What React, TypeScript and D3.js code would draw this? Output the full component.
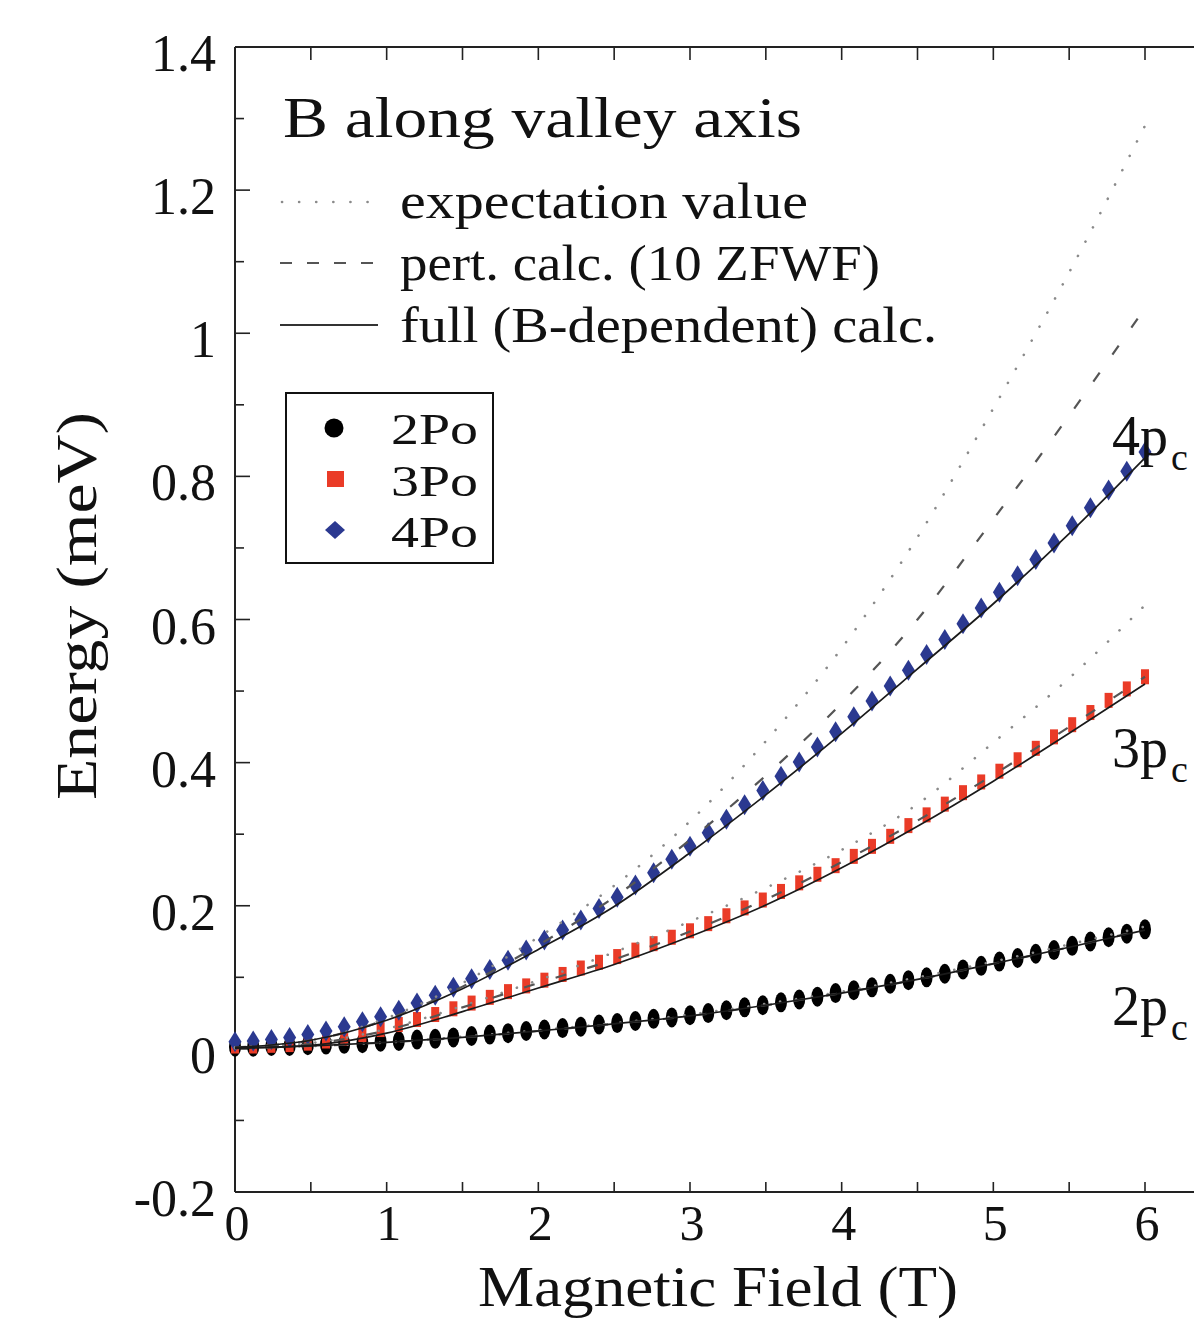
import React from 'react';
import * as d3 from 'd3';

// field values of the marker points (T)
const fieldPts = [
  0, 0.12, 0.24, 0.36, 0.48, 0.6, 0.72, 0.84, 0.96, 1.08,
  1.2, 1.32, 1.44, 1.56, 1.68, 1.8, 1.92, 2.04, 2.16, 2.28,
  2.4, 2.52, 2.64, 2.76, 2.88, 3.0, 3.12, 3.24, 3.36, 3.48,
  3.6, 3.72, 3.84, 3.96, 4.08, 4.2, 4.32, 4.44, 4.56, 4.68,
  4.8, 4.92, 5.04, 5.16, 5.28, 5.4, 5.52, 5.64, 5.76, 5.88, 6.0,
];

const po2 = [
  0.003, 0.003, 0.004, 0.004, 0.005, 0.006, 0.007, 0.008, 0.010, 0.011,
  0.013, 0.014, 0.016, 0.018, 0.020, 0.022, 0.025, 0.027, 0.029, 0.031,
  0.034, 0.036, 0.039, 0.042, 0.044, 0.047, 0.050, 0.054, 0.058, 0.061,
  0.065, 0.069, 0.073, 0.078, 0.082, 0.086, 0.091, 0.096, 0.100, 0.105,
  0.111, 0.116, 0.122, 0.127, 0.133, 0.138, 0.144, 0.150, 0.156, 0.161, 0.167,
];

const po3 = [
  0.004, 0.004, 0.005, 0.006, 0.008, 0.011, 0.015, 0.020, 0.027, 0.034,
  0.041, 0.048, 0.056, 0.064, 0.072, 0.080, 0.088, 0.096, 0.104, 0.113,
  0.121, 0.129, 0.138, 0.147, 0.156, 0.165, 0.175, 0.186, 0.197, 0.208,
  0.220, 0.232, 0.244, 0.256, 0.269, 0.283, 0.297, 0.312, 0.327, 0.342,
  0.358, 0.373, 0.388, 0.404, 0.420, 0.436, 0.453, 0.470, 0.487, 0.503, 0.520,
];

const po4 = [
  0.010, 0.011, 0.013, 0.016, 0.020, 0.025, 0.031, 0.038, 0.045, 0.054,
  0.064, 0.075, 0.086, 0.098, 0.111, 0.124, 0.138, 0.152, 0.166, 0.180,
  0.196, 0.212, 0.229, 0.246, 0.265, 0.283, 0.302, 0.321, 0.341, 0.361,
  0.381, 0.401, 0.422, 0.443, 0.464, 0.486, 0.507, 0.529, 0.551, 0.572,
  0.594, 0.616, 0.638, 0.661, 0.684, 0.707, 0.731, 0.756, 0.781, 0.807, 0.834,
];

// theory curves
const curveB = [0, 0.5, 1, 1.5, 2, 2.5, 3, 3.5, 4, 4.5, 5, 5.5, 6];

const full2p = [0.001, 0.004, 0.009, 0.016, 0.025, 0.035, 0.046, 0.061, 0.078, 0.097, 0.119, 0.142, 0.166];
const full3p = [0.001, 0.005, 0.022, 0.052, 0.085, 0.118, 0.157, 0.201, 0.253, 0.311, 0.374, 0.441, 0.510];
const full4p = [0.002, 0.012, 0.040, 0.084, 0.139, 0.199, 0.274, 0.355, 0.441, 0.531, 0.622, 0.720, 0.826];

const pert2p = [0.001, 0.004, 0.009, 0.016, 0.025, 0.035, 0.046, 0.061, 0.078, 0.097, 0.119, 0.142, 0.167];
const pert3p = [0.001, 0.007, 0.026, 0.058, 0.092, 0.125, 0.164, 0.209, 0.261, 0.319, 0.383, 0.450, 0.520];
const pert4p = [0.002, 0.012, 0.041, 0.087, 0.145, 0.212, 0.292, 0.382, 0.483, 0.600, 0.740, 0.885, 1.035];

const expect2p = [0.001, 0.004, 0.009, 0.017, 0.026, 0.036, 0.048, 0.063, 0.080, 0.100, 0.122, 0.146, 0.171];
const expect3p = [0.002, 0.008, 0.028, 0.060, 0.096, 0.135, 0.178, 0.225, 0.278, 0.342, 0.428, 0.518, 0.620];
const expect4p = [0.002, 0.012, 0.043, 0.092, 0.156, 0.228, 0.318, 0.430, 0.560, 0.715, 0.895, 1.085, 1.290];

const yTicks = [-0.2, 0, 0.2, 0.4, 0.6, 0.8, 1, 1.2, 1.4];
const yTickLabels = ['-0.2', '0', '0.2', '0.4', '0.6', '0.8', '1', '1.2', '1.4'];
const xTicks = [0, 1, 2, 3, 4, 5, 6];

const FONT = '"Liberation Serif", "Times New Roman", serif';
const BLUE = '#2b3990';
const RED = '#ea3b27';

export default function App() {
  const x = d3.scaleLinear().domain([0, 6]).range([235, 1145]);
  const y = d3.scaleLinear().domain([-0.2, 1.4]).range([1192, 47]);
  const left = x(0);
  const top = y(1.4);
  const bottom = y(-0.2);

  const line = d3
    .line<number>()
    .x((d, i) => x(curveB[i]))
    .y((d) => y(d))
    .curve(d3.curveMonotoneX);

  const minorY = d3.range(-0.1, 1.4, 0.2);
  const halfX = d3.range(0.5, 6.6, 0.5);

  const dotStyle = { fill: 'none', stroke: '#8a8a8a', strokeWidth: 2.6, strokeDasharray: '0.1 16', strokeLinecap: 'round' as const };
  const dashStyle = { fill: 'none', stroke: '#555', strokeWidth: 2.2, strokeDasharray: '11 22' };
  const solidStyle = { fill: 'none', stroke: '#1a1a1a', strokeWidth: 1.7 };

  return (
    <div style={{ position: 'absolute', left: 0, top: 0 }}>
      <svg width={1194} height={1319} style={{ display: 'block', background: '#fff' }} fontFamily={FONT}>
        {/* frame */}
        <g stroke="#222" strokeWidth={2} fill="none">
          <line x1={left} y1={top} x2={1194} y2={top} />
          <line x1={left} y1={bottom} x2={1194} y2={bottom} />
          <line x1={left} y1={top} x2={left} y2={bottom} />
        </g>

        {/* ticks */}
        <g stroke="#222" strokeWidth={1.6}>
          {yTicks.map((t) => (
            <line key={'ym' + t} x1={left} x2={left + 15} y1={y(t)} y2={y(t)} />
          ))}
          {minorY.map((t) => (
            <line key={'yn' + t} x1={left} x2={left + 9} y1={y(t)} y2={y(t)} />
          ))}
          {halfX.map((t) => (
            <g key={'xt' + t}>
              <line x1={x(t)} x2={x(t)} y1={top} y2={top + 13} />
              <line x1={x(t)} x2={x(t)} y1={bottom} y2={bottom - 10} />
            </g>
          ))}
        </g>

        {/* tick labels */}
        <g fontSize={52} fill="#111">
          {yTicks.map((t, i) => (
            <text key={'yl' + t} x={216} y={y(t) + 24} textAnchor="end">
              {yTickLabels[i]}
            </text>
          ))}
        </g>
        <g fontSize={50} fill="#111">
          {xTicks.map((t) => (
            <text key={'xl' + t} x={x(t) + 2} y={1240} textAnchor="middle">
              {t}
            </text>
          ))}
        </g>

        {/* axis titles */}
        <text x={718} y={1306} fontSize={56} textAnchor="middle" textLength={480} lengthAdjust="spacingAndGlyphs" fill="#111">
          Magnetic Field (T)
        </text>
        <text transform="translate(96,606) rotate(-90)" fontSize={58} textAnchor="middle" textLength={388} lengthAdjust="spacingAndGlyphs" fill="#111">
          Energy (meV)
        </text>

        {/* title and line legend */}
        <text x={283} y={137} fontSize={58} textLength={519} lengthAdjust="spacingAndGlyphs" fill="#111">
          B along valley axis
        </text>
        <line x1={282} x2={380} y1={202} y2={202} stroke="#8a8a8a" strokeWidth={2.6} strokeDasharray="0.1 17" strokeLinecap="round" />
        <line x1={280} x2={380} y1={263} y2={263} stroke="#555" strokeWidth={2.2} strokeDasharray="12 15" />
        <line x1={280} x2={378} y1={325} y2={325} stroke="#333" strokeWidth={2} />
        <g fontSize={50} fill="#111">
          <text x={400} y={218} textLength={408} lengthAdjust="spacingAndGlyphs">expectation  value</text>
          <text x={400} y={280} textLength={480} lengthAdjust="spacingAndGlyphs">pert.  calc.  (10  ZFWF)</text>
          <text x={400} y={342} textLength={537} lengthAdjust="spacingAndGlyphs">full  (B-dependent)  calc.</text>
        </g>

        {/* markers */}
        <g>
          {fieldPts.map((b, i) => (
            <ellipse key={'k' + i} cx={x(b)} cy={y(po2[i])} rx={6} ry={10} fill="#000" />
          ))}
          {fieldPts.map((b, i) => (
            <rect key={'r' + i} x={x(b) - 4} y={y(po3[i]) - 7.5} width={8} height={15} fill={RED} />
          ))}
          {fieldPts.map((b, i) => {
            const cx = x(b);
            const cy = y(po4[i]);
            return <path key={'b' + i} d={`M${cx},${cy - 10.5}L${cx + 6.5},${cy}L${cx},${cy + 10.5}L${cx - 6.5},${cy}Z`} fill={BLUE} />;
          })}
        </g>

        {/* theory curves */}
        <g>
          {[expect2p, expect3p, expect4p].map((s, i) => (
            <path key={'e' + i} d={line(s) || ''} style={dotStyle} />
          ))}
          {[pert2p, pert3p, pert4p].map((s, i) => (
            <path key={'p' + i} d={line(s) || ''} style={dashStyle} />
          ))}
          {[full2p, full3p, full4p].map((s, i) => (
            <path key={'f' + i} d={line(s) || ''} style={solidStyle} />
          ))}
        </g>

        {/* state labels */}
        <g fontSize={56} fill="#111">
          <text x={1112} y={455}>4p<tspan dx={3} dy={15} fontSize={38}>c</tspan></text>
          <text x={1112} y={767}>3p<tspan dx={3} dy={15} fontSize={38}>c</tspan></text>
          <text x={1112} y={1025}>2p<tspan dx={3} dy={15} fontSize={38}>c</tspan></text>
        </g>

        {/* marker legend */}
        <rect x={286} y={393} width={207} height={170} fill="#fff" stroke="#111" strokeWidth={2} />
        <circle cx={334} cy={428} r={9.5} fill="#000" />
        <rect x={327} y={471} width={17} height={16} fill={RED} />
        <path d="M335,521L345,530L335,539L325,530Z" fill={BLUE} />
        <g fontSize={45} fill="#111">
          <text x={391} y={444} textLength={87} lengthAdjust="spacingAndGlyphs">2Po</text>
          <text x={391} y={496} textLength={87} lengthAdjust="spacingAndGlyphs">3Po</text>
          <text x={391} y={547} textLength={87} lengthAdjust="spacingAndGlyphs">4Po</text>
        </g>
      </svg>
    </div>
  );
}
